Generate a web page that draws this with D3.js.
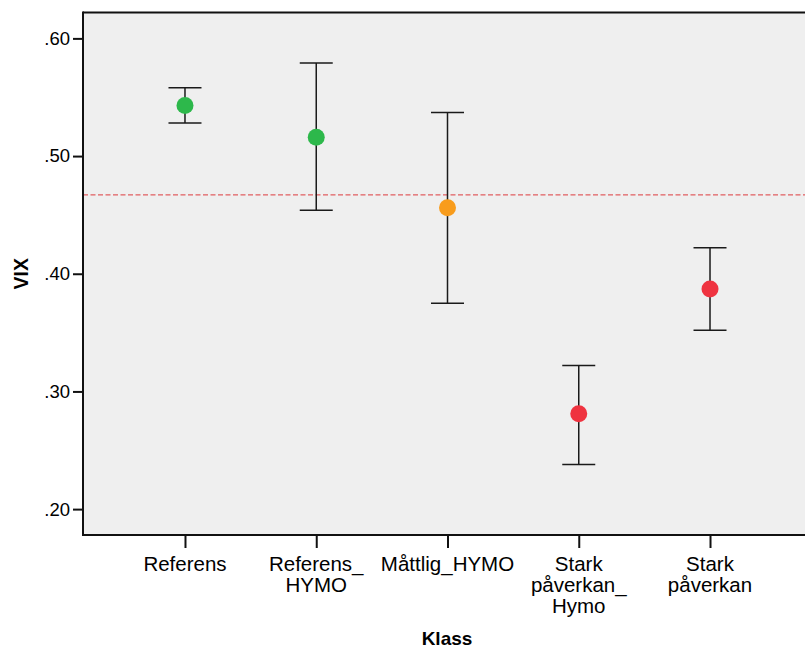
<!DOCTYPE html>
<html>
<head>
<meta charset="utf-8">
<script src="https://cdn.jsdelivr.net/npm/d3@7"></script>
<style>
  body { margin: 0; background: #fff; }
  text { font-family: Arial, "Liberation Sans", sans-serif; fill: #000; }
</style>
</head>
<body>
<div id="chart"></div>
<script>
// category labels (lines split for wrapping)
var categories = ["Referens", "Referens_HYMO", "Måttlig_HYMO", "Stark påverkan_Hymo", "Stark påverkan"];
var categoryLines = [["Referens"], ["Referens_", "HYMO"], ["Måttlig_HYMO"], ["Stark", "påverkan_", "Hymo"], ["Stark", "påverkan"]];
var means = [0.543, 0.516, 0.456, 0.281, 0.387];
var upper = [0.558, 0.579, 0.537, 0.322, 0.422];
var lower = [0.528, 0.454, 0.375, 0.238, 0.352];
var pointColors = ["#2db84b", "#2db84b", "#f89c1c", "#ef3340", "#ef3340"];
var refLine = 0.467;
var yTicks = [0.20, 0.30, 0.40, 0.50, 0.60];

var svgWidth = 805;
var svgHeight = 648;

var plot = { left: 83, top: 12.5, right: 812, bottom: 535 };

var svg = d3.select("#chart")
  .append("svg")
  .attr("width", svgWidth)
  .attr("height", svgHeight);

var xScale = d3.scalePoint()
  .domain(categories)
  .range([plot.left, plot.right])
  .padding(0.777);

var yScale = d3.scaleLinear()
  .domain([0.178, 0.622])
  .range([plot.bottom, plot.top]);

// plot background
svg.append("rect")
  .attr("x", plot.left)
  .attr("y", plot.top)
  .attr("width", plot.right - plot.left)
  .attr("height", plot.bottom - plot.top)
  .attr("fill", "#efefef");

// top border
svg.append("line")
  .attr("x1", plot.left).attr("x2", plot.right)
  .attr("y1", plot.top).attr("y2", plot.top)
  .attr("stroke", "#111").attr("stroke-width", 2);

// reference line
svg.append("line")
  .attr("x1", plot.left).attr("x2", plot.right)
  .attr("y1", yScale(refLine)).attr("y2", yScale(refLine))
  .attr("stroke", "#dd3a3d")
  .attr("stroke-width", 1)
  .attr("stroke-dasharray", "5,2.5");

// y axis
var yAxis = d3.axisLeft(yScale)
  .tickValues(yTicks)
  .tickSize(10)
  .tickPadding(3)
  .tickFormat(d => d3.format(".2f")(d).replace(/^0/, ""));

var yG = svg.append("g")
  .attr("transform", `translate(${plot.left},0)`)
  .call(yAxis);
yG.select(".domain").remove();
yG.selectAll(".tick line").attr("stroke", "#111").attr("stroke-width", 2);
yG.selectAll(".tick text").style("font-size", "18.5px").attr("fill", "#000");

svg.append("line")
  .attr("x1", plot.left).attr("x2", plot.left)
  .attr("y1", plot.top - 1).attr("y2", plot.bottom + 1)
  .attr("stroke", "#111").attr("stroke-width", 2);

// x axis
var xAxis = d3.axisBottom(xScale)
  .tickSize(13)
  .tickFormat("");

var xG = svg.append("g")
  .attr("transform", `translate(0,${plot.bottom})`)
  .call(xAxis);
xG.select(".domain").remove();
xG.selectAll(".tick line").attr("stroke", "#111").attr("stroke-width", 2);

svg.append("line")
  .attr("x1", plot.left - 1).attr("x2", plot.right)
  .attr("y1", plot.bottom).attr("y2", plot.bottom)
  .attr("stroke", "#111").attr("stroke-width", 2);

// category labels
var labels = svg.selectAll(".catLabel")
  .data(categories)
  .enter()
  .append("text")
  .attr("class", "catLabel")
  .attr("text-anchor", "middle")
  .style("font-size", "20.5px");

labels.selectAll("tspan")
  .data((d, i) => categoryLines[i].map(t => ({ t: t, x: xScale(d) })))
  .enter()
  .append("tspan")
  .attr("x", d => d.x)
  .attr("y", (d, j) => 571 + j * 21)
  .text(d => d.t);

// error bars
var bars = svg.selectAll(".errbar")
  .data(categories)
  .enter()
  .append("g")
  .attr("class", "errbar");

bars.append("line")
  .attr("x1", d => xScale(d)).attr("x2", d => xScale(d))
  .attr("y1", (d, i) => yScale(upper[i]))
  .attr("y2", (d, i) => yScale(lower[i]))
  .attr("stroke", "#1a1a1a").attr("stroke-width", 1.5);

bars.append("line")
  .attr("x1", d => xScale(d) - 16.5).attr("x2", d => xScale(d) + 16.5)
  .attr("y1", (d, i) => yScale(upper[i]))
  .attr("y2", (d, i) => yScale(upper[i]))
  .attr("stroke", "#1a1a1a").attr("stroke-width", 1.5);

bars.append("line")
  .attr("x1", d => xScale(d) - 16.5).attr("x2", d => xScale(d) + 16.5)
  .attr("y1", (d, i) => yScale(lower[i]))
  .attr("y2", (d, i) => yScale(lower[i]))
  .attr("stroke", "#1a1a1a").attr("stroke-width", 1.5);

bars.append("circle")
  .attr("cx", d => xScale(d))
  .attr("cy", (d, i) => yScale(means[i]))
  .attr("r", 8.5)
  .attr("fill", (d, i) => pointColors[i]);

// axis titles
svg.append("text")
  .attr("transform", `translate(28, ${(plot.top + plot.bottom) / 2}) rotate(-90)`)
  .attr("text-anchor", "middle")
  .style("font-size", "19.5px")
  .style("font-weight", "bold")
  .text("VIX");

svg.append("text")
  .attr("x", 447)
  .attr("y", 645)
  .attr("text-anchor", "middle")
  .style("font-size", "19px")
  .style("font-weight", "bold")
  .text("Klass");
</script>
</body>
</html>
